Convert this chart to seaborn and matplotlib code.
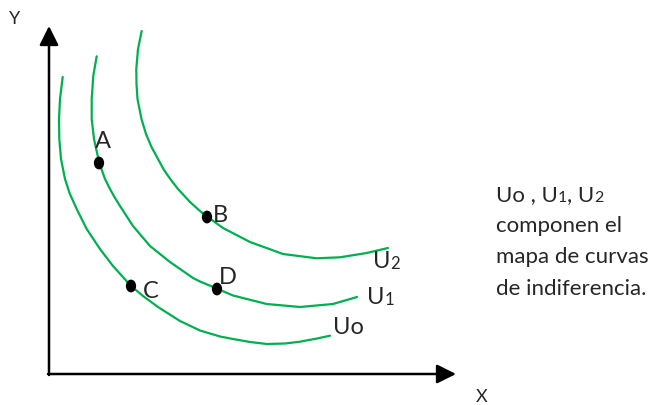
import matplotlib
matplotlib.use("Agg")
import matplotlib.pyplot as plt
from matplotlib.path import Path
from matplotlib.transforms import Affine2D
import seaborn as sns

sns.set_style("white")
plt.rcParams['font.family'] = ['Lato', 'DejaVu Sans']

# curvas de indiferencia (coordenadas, eje y hacia abajo)
u0_x = [62.7, 60, 59, 59.3, 61, 65, 69.5, 76.7, 86.7, 100, 113, 130.7, 143, 158, 180, 200, 220, 233, 250, 267, 285, 300, 317, 330]
u0_y = [78, 100, 120, 140, 160, 180, 194, 210, 230, 250, 267, 286.7, 297, 308, 322, 331.5, 337.5, 340, 343, 345, 344.5, 342.7, 339.5, 336.7]

u1_x = [96.7, 93.3, 91.7, 91.7, 94, 99.3, 105, 110, 115, 120, 133, 150, 170, 193, 200, 216.7, 233, 266.7, 300, 333, 357]
u1_y = [57.3, 76.7, 100, 120, 140, 164, 180, 190, 199, 207, 227, 247, 263, 279, 282.5, 289.5, 296.5, 305, 308, 305, 298]

u2_x = [141.7, 138, 136.3, 136.5, 137.5, 141.5, 146, 151.5, 158, 164, 171, 178, 190, 200, 207, 223, 250, 283, 316.7, 340, 366.7, 388]
u2_y = [32, 50, 70, 85, 100, 120, 135, 148, 160, 171, 181, 190, 203, 212, 217.5, 229, 243, 255, 259.3, 258.3, 254, 249]

# puntos A, B, C, D
point_names = ['A', 'B', 'C', 'D']
point_x = [99, 207, 131, 217]
point_y = [164, 218, 287, 290]

green = '#00b050'

fig = plt.figure(figsize=(6.54, 4.06), dpi=100)
ax = fig.add_axes([0, 0, 1, 1])
ax.set_xlim(0, 654)
ax.set_ylim(406, 0)
ax.axis('off')

# ejes con flechas
arrow = dict(arrowstyle='-|>,head_length=0.4,head_width=0.2', color='black',
             lw=1.8, mutation_scale=29, shrinkA=0, shrinkB=0)
ax.annotate('', xy=(49, 27), xytext=(49, 376), arrowprops=arrow)
ax.annotate('', xy=(456, 375), xytext=(48, 375), arrowprops=arrow)
ax.text(15, 19, 'Y', fontsize=13, ha='center', va='center')
ax.text(482, 397, 'X', fontsize=13, ha='center', va='center')

for cx, cy in [(u0_x, u0_y), (u1_x, u1_y), (u2_x, u2_y)]:
    sns.lineplot(x=cx, y=cy, sort=False, estimator=None, color=green, lw=1.6, ax=ax)

# puntos un poco más altos que anchos
oval = Path.unit_circle().transformed(Affine2D().scale(0.8, 1.0))
sns.scatterplot(x=point_x, y=point_y, color='black', s=85, marker=oval,
                edgecolor='none', ax=ax, zorder=5)

label_pos = {'A': (103, 148), 'B': (213, 222), 'C': (143, 298), 'D': (219, 284)}
for name in point_names:
    lx, ly = label_pos[name]
    ha = 'center' if name == 'A' else 'left'
    ax.text(lx, ly, name, fontsize=17, ha=ha, va='baseline')


def chain(x, y, pieces):
    # escribe trozos de texto seguidos, con distintos tamaños, en la misma línea
    t = ax.text(x, y, pieces[0][0], fontsize=pieces[0][1], va='bottom', ha='left')
    for txt, size in pieces[1:]:
        t = ax.annotate(txt, xy=(1, 0), xycoords=t, fontsize=size, va='bottom', ha='left')
    return t


chain(373, 272, [('U', 17), ('2', 12)])
chain(367, 308, [('U', 17), ('1', 12)])
chain(333, 338, [('Uo', 17)])

chain(496, 205, [('Uo , U', 16), ('1', 11.5), (', U', 16), ('2', 11.5)])
ax.text(496, 232, 'componen el', fontsize=16, va='baseline')
ax.text(496, 263, 'mapa de curvas', fontsize=16, va='baseline')
ax.text(496, 295, 'de indiferencia.', fontsize=16, va='baseline')

fig.savefig('out.png', dpi=100)
